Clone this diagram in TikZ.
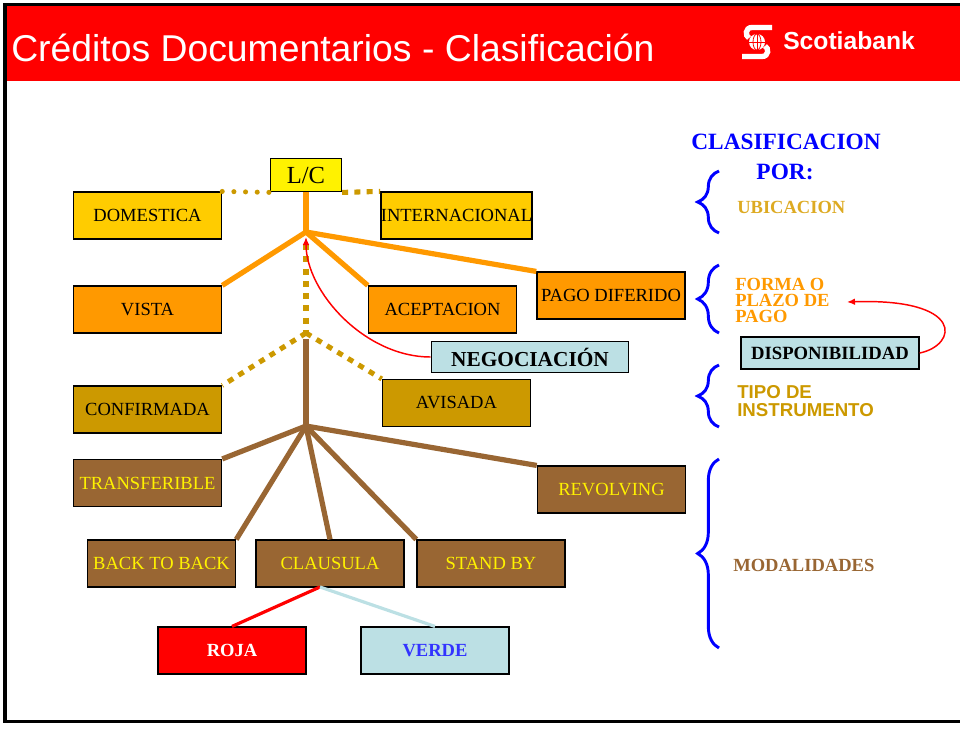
\documentclass[tikz,border=0pt]{standalone}
\usepackage{fontspec}
\setmainfont{Liberation Serif}
\newfontfamily\arial{Liberation Sans}
\usetikzlibrary{decorations.pathreplacing,arrows.meta}

\definecolor{amarillo}{HTML}{FFCC00}
\definecolor{naranja}{HTML}{FF9900}
\definecolor{dorado}{HTML}{CC9900}
\definecolor{cafe}{HTML}{996633}
\definecolor{celeste}{HTML}{BCE0E4}
\definecolor{rojo}{HTML}{FF0000}
\definecolor{azul}{HTML}{0000FF}
\definecolor{oro}{HTML}{DDAA22}

\tikzset{
  caja/.style={draw=black, line width=1.1pt, minimum width=111pt, minimum height=35pt,
    inner sep=0pt, font=\fontsize{13.9}{16}\selectfont},
  rama/.style={line width=3.9pt},
  puntos/.style={draw=dorado, line width=3.8pt, line cap=round, dash pattern=on 0pt off 8.75pt},
  trazos/.style={draw=dorado, line width=3.8pt, dash pattern=on 4.5pt off 4.7pt},
  llave/.style={draw=azul, line width=2.2pt, decorate, decoration={brace, amplitude=16pt}},
  flecha/.style={draw=rojo, line width=1.1pt, -{Latex[length=6pt,width=5pt]}},
  rotulo/.style={anchor=base west, inner sep=0pt, align=left},
}

\begin{document}
\begin{tikzpicture}[x=0.75pt, y=-0.75pt]
	\useasboundingbox (0,0) rectangle (960,731);
	% marco y encabezado
	\fill[rojo] (6.5,6) rectangle (960,81.5);
	\draw[line width=2.4pt] (961,4.5) -- (5,4.5) -- (5,721.5) -- (961,721.5);
	\node[rotulo, text=white, font=\arial\fontsize{28}{32}\selectfont] (titulo) at (11,62)
		{Créditos Documentarios - Clasificación};
	\fill[white] (757,42) circle (8);
	\draw[rojo, line width=0.6pt] (749,42) -- (765,42) (757,34) -- (757,50);
	\draw[rojo, line width=0.6pt] (757,42) ellipse (4 and 8);
	\draw[white, line width=4pt] (772,27.5) -- (752,27.5) .. controls (745,27.5) and (745,36) .. (749,38);
	\draw[white, line width=4pt] (742,56.5) -- (762,56.5) .. controls (769,56.5) and (769,48) .. (765,46);
	\node[rotulo, text=white, font=\arial\bfseries\fontsize{18.5}{20}\selectfont] (banco) at (783,50) {Scotiabank};

	% cajas
	\node[caja, fill=yellow, minimum width=53pt, minimum height=25pt, font=\fontsize{18.4}{20}\selectfont] (lc) at (306,175) {L/C};
	\node[caja, fill=amarillo] (dom) at (147.5,215.5) {DOMESTICA};
	\node[caja, fill=amarillo] (intl) at (456.5,215.5) {INTERNACIONAL};
	\node[caja, fill=naranja] (vista) at (147.5,309.5) {VISTA};
	\node[caja, fill=naranja] (acep) at (442.5,309.5) {ACEPTACION};
	\node[caja, fill=naranja] (pago) at (611,295.5) {PAGO DIFERIDO};
	\node[caja, fill=celeste, minimum width=148pt, minimum height=23pt, font=\bfseries\fontsize{16}{18}\selectfont] (negoc) at (530,357) {NEGOCIACIÓN};
	\node[caja, fill=dorado] (conf) at (147.5,409.5) {CONFIRMADA};
	\node[caja, fill=dorado] (avis) at (456.5,403) {AVISADA};
	\node[caja, fill=cafe, text=yellow] (trans) at (147.5,483) {TRANSFERIBLE};
	\node[caja, fill=cafe, text=yellow] (revol) at (611.5,489.5) {REVOLVING};
	\node[caja, fill=cafe, text=yellow] (b2b) at (161.5,563.5) {BACK TO BACK};
	\node[caja, fill=cafe, text=yellow] (clau) at (330,563.5) {CLAUSULA};
	\node[caja, fill=cafe, text=yellow] (stand) at (491,563.5) {STAND BY};
	\node[caja, fill=rojo, text=white, font=\bfseries\fontsize{13.9}{16}\selectfont] (roja) at (232,650.5) {ROJA};
	\node[caja, fill=celeste, text=azul!80!white, font=\bfseries\fontsize{13.9}{16}\selectfont] (verde) at (435,650.5) {VERDE};
	\node[caja, fill=celeste, minimum width=133.5pt, minimum height=24pt, font=\bfseries\fontsize{14}{16}\selectfont] (disp) at (830,353) {DISPONIBILIDAD};

	% puntos de union
	\coordinate (nudoA) at (306,232);
	\coordinate (trazoA) at (306,244);
	\coordinate (nudoB) at (306,333);
	\coordinate (cafeA) at (306,339);
	\coordinate (nudoC) at (306,426);
	\coordinate (clauB) at (320,587);
	\coordinate (puntaA) at (306,237);
	\coordinate (puntaB) at (847,302);

	% ubicacion
	\draw[puntos] (dom.north east) -- (lc.south west);
	\draw[trazos] (lc.south east) -- (intl.north west);
	% forma de pago
	\draw[rama, naranja] (lc.south) -- (nudoA);
	\draw[rama, naranja] (nudoA) -- (vista.north east);
	\draw[rama, naranja] (nudoA) -- (acep.north west);
	\draw[rama, naranja] (nudoA) -- (pago.north west);
	% instrumento
	\draw[trazos] (trazoA) -- (nudoB);
	\draw[trazos] (nudoB) -- (conf.north east);
	\draw[trazos] (nudoB) -- (avis.north west);
	% modalidades
	\draw[rama, cafe] (cafeA) -- (nudoC);
	\draw[rama, cafe] (nudoC) -- (trans.north east);
	\draw[rama, cafe] (nudoC) -- (revol.north west);
	\draw[rama, cafe] (nudoC) -- (b2b.north east);
	\draw[rama, cafe] (nudoC) -- (clau.north);
	\draw[rama, cafe] (nudoC) -- (stand.north west);
	\draw[rojo, line width=2.4pt] (clauB) -- (roja.north);
	\draw[celeste, line width=2.4pt] (clauB) -- (verde.north);

	% flechas rojas
	\draw[flecha] (negoc.west) .. controls (365,357) and (306,292) .. (puntaA);
	\draw[flecha] (disp.east) .. controls (958,345) and (965,298) .. (puntaB);

	% columna derecha
	\node[anchor=base, inner sep=0pt, text=azul, font=\bfseries\fontsize{17.5}{20}\selectfont] (clasif) at (786,150) {CLASIFICACION};
	\node[anchor=base, inner sep=0pt, text=azul, font=\bfseries\fontsize{17.5}{20}\selectfont] (por) at (785,180) {POR:};
	\draw[llave] (719,233) -- (719,171);
	\draw[llave] (719,333) -- (719,265);
	\draw[llave] (719,427) -- (719,365);
	\draw[llave] (719,648) -- (719,459);
	\node[rotulo, text=oro, font=\bfseries\fontsize{13.9}{16}\selectfont] (ubic) at (737,214) {UBICACION};
	\node[rotulo, text=naranja, font=\bfseries\fontsize{13.9}{12}\selectfont] (forma) at (735,322) {FORMA O\\PLAZO DE\\PAGO};
	\node[rotulo, text=dorado, font=\arial\bfseries\fontsize{14}{13.5}\selectfont] (tipo) at (737,416) {TIPO DE\\INSTRUMENTO};
	\node[rotulo, text=cafe, font=\bfseries\fontsize{13.9}{16}\selectfont] (modal) at (733,571) {MODALIDADES};
\end{tikzpicture}
\end{document}
